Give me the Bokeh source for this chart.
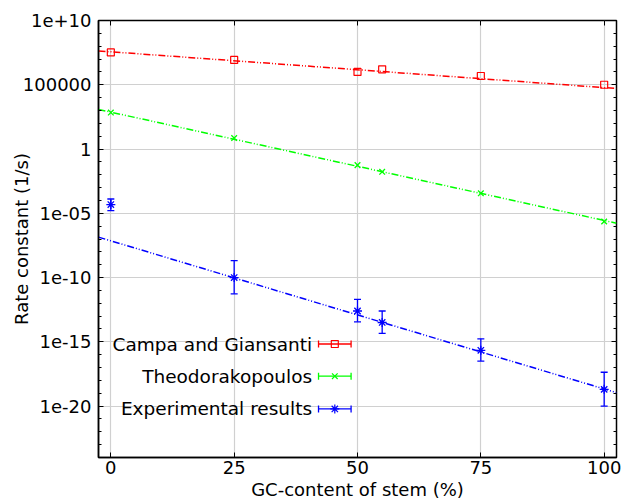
from bokeh.plotting import figure
from bokeh.models import (ColumnDataSource, Whisker, TeeHead, FixedTicker, LinearAxis,
                          LogAxis, CustomJSTickFormatter, Range1d)
from bokeh.core.properties import value
from bokeh.embed import file_html
from bokeh.resources import INLINE

# ---------------- data ----------------
gc = [0, 25, 50, 55, 75, 100]
campa = [3.3e7, 8.5e6, 1.0e6, 1.6e6, 4.8e5, 1.0e5]
theo = [6.9e2, 7.2, 5.6e-2, 1.7e-2, 3.6e-4, 2.3e-6]
exper = [4.8e-5, 1.0e-10, 2.5e-13, 3.2e-14, 2.2e-16, 2.0e-19]
exper_lo = [1.6e-5, 5.4e-12, 3.6e-14, 4.5e-15, 3.2e-17, 1.0e-20]
exper_hi = [1.3e-4, 2.1e-9, 2.0e-12, 2.5e-13, 1.7e-15, 4.3e-18]

fit_x = [-2.5, 102.5]
campa_fit = [4.3e7, 5.1e4]
theo_fit = [1.2e3, 1.7e-6]
exper_fit = [1.4e-7, 1.1e-19]

series_names = ["Campa and Giansanti", "Theodorakopoulos", "Experimental results"]

x_ticks = [0, 25, 50, 75, 100]
y_tick_exps = [10, 5, 0, -5, -10, -15, -20]
y_tick_labels = ["1e+10", "100000", "1", "1e-05", "1e-10", "1e-15", "1e-20"]
y_minor_exps = list(range(-24, 11))

# ---------------- style ----------------
RED, GREEN, BLUE = "#ff0000", "#00ff00", "#0000ff"
FONT = "DejaVu Sans"
FS = "18px"
LEG_FS = "18.5px"
DASH = "7 2 1 2 1 2"

# legend layout (data coordinates)
LEG_TEXT_X = 40.8
LEG_X0, LEG_XM, LEG_X1 = 42.1, 45.4, 48.7
LEG_ROWS = [10 ** -15.17, 10 ** -17.67, 10 ** -20.22]

p = figure(width=635, height=504,
           x_range=Range1d(-2.5, 102.5), y_range=Range1d(1e-24, 1e10),
           y_axis_type="log", output_backend="svg", toolbar_location=None,
           min_border_left=98, min_border_right=19, min_border_top=20, min_border_bottom=47)
p.background_fill_color = "white"
p.border_fill_color = "white"
p.outline_line_color = "black"
p.outline_line_width = 1.5

xt = FixedTicker(ticks=x_ticks)
yt = FixedTicker(ticks=[10.0 ** e for e in y_tick_exps],
                 minor_ticks=[10.0 ** e for e in y_minor_exps])
yfmt = CustomJSTickFormatter(args=dict(exps=y_tick_exps, labels=y_tick_labels), code="""
const e = Math.round(Math.log10(tick));
const i = exps.indexOf(e);
return i >= 0 ? labels[i] : "";
""")

xa = p.xaxis[0]
xa.ticker = xt
xa.axis_label = "GC-content of stem (%)"
ya = p.yaxis[0]
ya.ticker = yt
ya.formatter = yfmt
ya.axis_label = "Rate constant (1/s)"

for ax in (xa, ya):
    ax.axis_line_color = "black"
    ax.axis_line_width = 1.5
    ax.major_tick_in = 5
    ax.major_tick_out = 0
    ax.minor_tick_in = 3
    ax.minor_tick_out = 0
    ax.major_tick_line_color = "black"
    ax.minor_tick_line_color = "black"
    ax.major_label_text_font = FONT
    ax.major_label_text_font_size = FS
    ax.major_label_text_color = "black"
    ax.axis_label_text_font = FONT
    ax.axis_label_text_font_size = FS
    ax.axis_label_text_font_style = "normal"
    ax.axis_label_text_color = "black"
xa.major_label_standoff = 3
xa.axis_label_standoff = 2
ya.major_label_standoff = 7
ya.axis_label_standoff = -12

blank = CustomJSTickFormatter(code="return '';")
top = LinearAxis(ticker=xt, formatter=blank, major_tick_in=5, major_tick_out=0,
                 minor_tick_in=0, minor_tick_out=0, major_label_text_font_size="0px",
                 major_label_standoff=0, axis_line_color=None)
right = LogAxis(ticker=yt, formatter=blank, major_tick_in=5, major_tick_out=0,
                minor_tick_in=3, minor_tick_out=0, major_label_text_font_size="0px",
                major_label_standoff=0, axis_line_color=None)
p.add_layout(top, "above")
p.add_layout(right, "right")

p.xgrid.ticker = xt
p.ygrid.ticker = FixedTicker(ticks=[10.0 ** e for e in y_tick_exps])
p.grid.grid_line_color = "#d0d0d0"
p.grid.grid_line_width = 1.2

# fit lines
p.line(fit_x, campa_fit, line_color=RED, line_width=1.5, line_dash=DASH)
p.line(fit_x, theo_fit, line_color=GREEN, line_width=1.5, line_dash=DASH)
p.line(fit_x, exper_fit, line_color=BLUE, line_width=1.5, line_dash=DASH)

# error bars
esrc = ColumnDataSource(dict(x=gc, lo=exper_lo, hi=exper_hi))
p.add_layout(Whisker(source=esrc, base="x", lower="lo", upper="hi", dimension="height",
                     line_color=BLUE, line_width=1.3,
                     upper_head=TeeHead(size=7, line_color=BLUE, line_width=1.3),
                     lower_head=TeeHead(size=7, line_color=BLUE, line_width=1.3)))

# markers
p.scatter(gc, campa, marker="square", size=7, fill_color=None, line_color=RED, line_width=1.2)
p.scatter(gc, theo, marker="x", size=8, line_color=GREEN, line_width=1.3)
p.scatter(gc, exper, marker="asterisk", size=9, line_color=BLUE, line_width=1.3)

# legend (drawn manually: label left, sample right)
p.text(x=[LEG_TEXT_X] * 3, y=LEG_ROWS, text=series_names, text_align="right",
       text_baseline="middle", text_font=value(FONT), text_font_size=value(LEG_FS),
       text_color="black")
leg_markers = ["square", "x", "asterisk"]
leg_sizes = [7, 8, 9]
for yy, col, mk, sz in zip(LEG_ROWS, [RED, GREEN, BLUE], leg_markers, leg_sizes):
    lsrc = ColumnDataSource(dict(y=[yy], x0=[LEG_X0], x1=[LEG_X1]))
    p.add_layout(Whisker(source=lsrc, base="y", lower="x0", upper="x1", dimension="width",
                         line_color=col, line_width=1.3,
                         upper_head=TeeHead(size=7, line_color=col, line_width=1.3),
                         lower_head=TeeHead(size=7, line_color=col, line_width=1.3)))
    p.scatter([LEG_XM], [yy], marker=mk, size=sz, fill_color=None, line_color=col, line_width=1.2)

open("out.html", "w").write(file_html(p, INLINE))
